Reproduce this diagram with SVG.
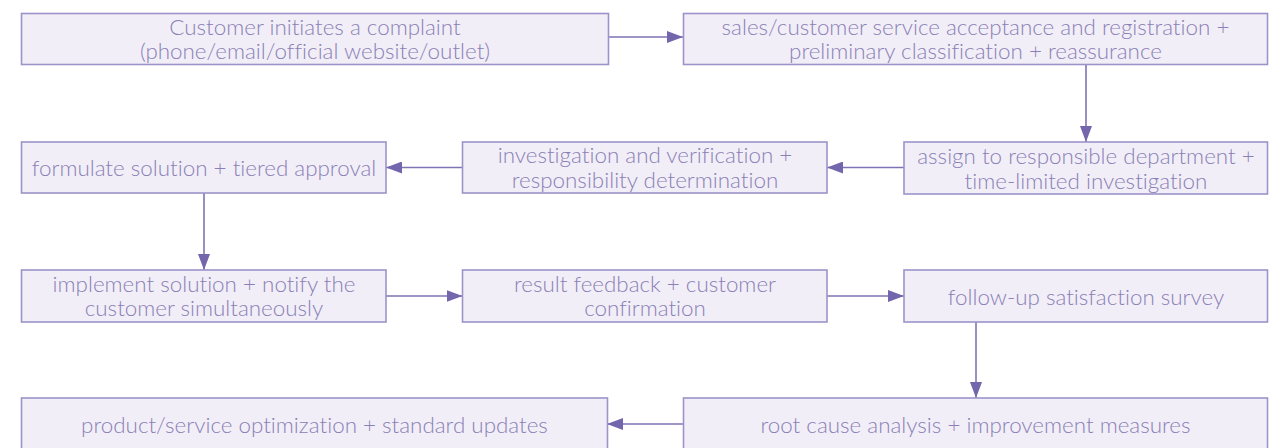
<svg xmlns="http://www.w3.org/2000/svg" width="1283" height="448" viewBox="0 0 1283 448">
  <defs>
    <marker id="arrow" viewBox="0 0 16 12" refX="16" refY="6" markerWidth="16" markerHeight="12" markerUnits="userSpaceOnUse" orient="auto">
      <path d="M0,0 L16,6 L0,12 Z" fill="#7366ad"/>
    </marker>
    <style>
      .node rect { fill: #f1eef7; stroke: #9d93c9; stroke-width: 1.6; }
      .node text { font-family: "Lato", "Liberation Sans", sans-serif; font-weight: 300; font-size: 22.4px; font-variant-ligatures: none; fill: #8a80b6; text-anchor: middle; dominant-baseline: central; }
      .edges path { fill: none; stroke: #7f73b5; stroke-width: 1.6; marker-end: url(#arrow); }
    </style>
  </defs>
  <rect width="1283" height="448" fill="#ffffff"/>

  <!-- connectors -->
  <g class="edges">
    <path d="M608.5,37 H683"/>
    <path d="M1086,64.5 V142"/>
    <path d="M904,167.5 H827"/>
    <path d="M462.5,167.5 H386"/>
    <path d="M204,193 V270"/>
    <path d="M386,296 H462.5"/>
    <path d="M827,296 H904"/>
    <path d="M976,322 V398"/>
    <path d="M683.5,424 H607"/>
  </g>

  <!-- process steps -->
  <g class="node" id="complaint">
    <rect x="21.5" y="13.5" width="587" height="51"/>
    <text x="315" y="26.5">Customer initiates a complaint</text>
    <text x="315" y="50.5">(phone/email/official website/outlet)</text>
  </g>
  <g class="node" id="registration">
    <rect x="683.5" y="13.5" width="584" height="51"/>
    <text x="975.5" y="26.5">sales/customer service acceptance and registration +</text>
    <text x="975.5" y="50.5">preliminary classification + reassurance</text>
  </g>
  <g class="node" id="assign">
    <rect x="904" y="142" width="363.5" height="52"/>
    <text x="1086" y="155.5">assign to responsible department +</text>
    <text x="1086" y="180.5">time-limited investigation</text>
  </g>
  <g class="node" id="investigation">
    <rect x="462.5" y="142" width="364.5" height="51"/>
    <text x="645" y="154.5">investigation and verification +</text>
    <text x="645" y="179.5">responsibility determination</text>
  </g>
  <g class="node" id="solution">
    <rect x="21.5" y="142" width="364.5" height="51"/>
    <text x="204" y="167">formulate solution + tiered approval</text>
  </g>
  <g class="node" id="implement">
    <rect x="21.5" y="270" width="364.5" height="52"/>
    <text x="204" y="283.5">implement solution + notify the</text>
    <text x="204" y="307.5">customer simultaneously</text>
  </g>
  <g class="node" id="feedback">
    <rect x="462.5" y="270" width="364.5" height="52"/>
    <text x="645" y="283.5">result feedback + customer</text>
    <text x="645" y="307.5">confirmation</text>
  </g>
  <g class="node" id="survey">
    <rect x="904" y="270" width="363.5" height="52"/>
    <text x="1086" y="296">follow-up satisfaction survey</text>
  </g>
  <g class="node" id="root-cause">
    <rect x="683.5" y="398" width="584" height="52"/>
    <text x="975.5" y="424">root cause analysis + improvement measures</text>
  </g>
  <g class="node" id="optimization">
    <rect x="21.5" y="398" width="586" height="52"/>
    <text x="314.5" y="424">product/service optimization + standard updates</text>
  </g>
</svg>
